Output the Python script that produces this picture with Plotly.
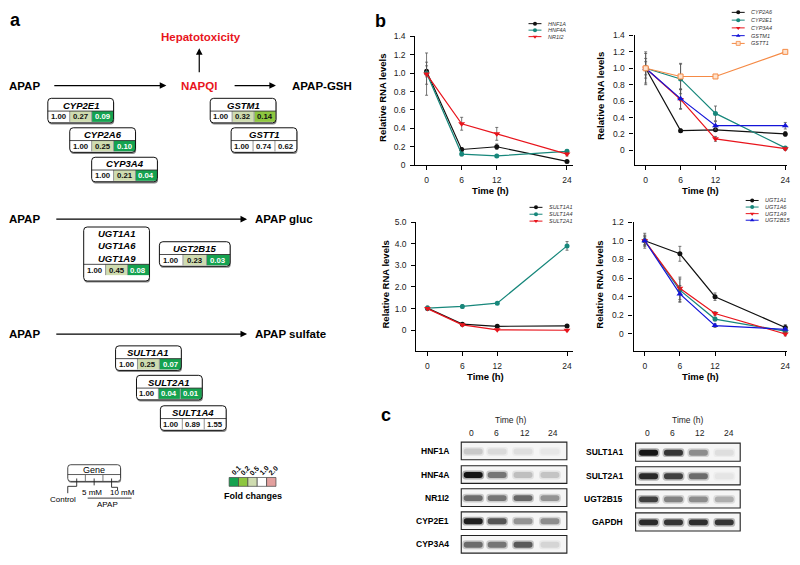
import plotly.graph_objects as go

FONT = "Arial, 'Liberation Sans', Helvetica, sans-serif"

# ---- panel b data (relative RNA levels, mean and error) ----
TIME_H = [0, 6, 12, 24]
TIME_LABELS = ["0", "6", "12", "24"]

HNF1A = [1.02, 0.17, 0.20, 0.04]
HNF1A_SD = [0.06, 0.02, 0.03, 0.01]
HNF4A = [1.00, 0.12, 0.10, 0.15]
HNF4A_SD = [0.12, 0.02, 0.01, 0.02]
NR1I2 = [0.99, 0.45, 0.34, 0.12]
NR1I2_SD = [0.23, 0.07, 0.07, 0.02]

CYP2A6 = [1.00, 0.24, 0.25, 0.20]
CYP2A6_SD = [0.03, 0.02, 0.02, 0.03]
CYP2E1 = [1.00, 0.87, 0.45, 0.03]
CYP2E1_SD = [0.18, 0.18, 0.09, 0.01]
CYP3A4 = [1.00, 0.62, 0.14, 0.02]
CYP3A4_SD = [0.12, 0.12, 0.03, 0.02]
GSTM1 = [1.00, 0.63, 0.30, 0.30]
GSTM1_SD = [0.08, 0.12, 0.05, 0.04]
GSTT1 = [1.00, 0.90, 0.90, 1.20]
GSTT1_SD = [0.20, 0.16, 0.01, 0.01]

SULT1A1 = [1.02, 0.28, 0.18, 0.20]
SULT1A1_SD = [0.08, 0.05, 0.05, 0.03]
SULT1A4 = [1.02, 1.10, 1.25, 3.90]
SULT1A4_SD = [0.10, 0.08, 0.04, 0.20]
SULT2A1 = [1.00, 0.25, 0.02, 0.00]
SULT2A1_SD = [0.06, 0.05, 0.02, 0.02]

UGT1A1 = [1.00, 0.86, 0.40, 0.07]
UGT1A1_SD = [0.08, 0.08, 0.04, 0.03]
UGT1A6 = [1.00, 0.47, 0.16, 0.03]
UGT1A6_SD = [0.06, 0.12, 0.02, 0.02]
UGT1A9 = [1.00, 0.49, 0.22, 0.00]
UGT1A9_SD = [0.05, 0.12, 0.02, 0.02]
UGT2B15 = [1.00, 0.43, 0.09, 0.05]
UGT2B15_SD = [0.04, 0.09, 0.02, 0.02]

TICKS_14 = [0, 0.2, 0.4, 0.6, 0.8, 1.0, 1.2, 1.4]
TICKS_12 = [0, 0.2, 0.4, 0.6, 0.8, 1.0, 1.2]
TICKS_5 = [0, 1, 2, 3, 4, 5]

# ---- panel a data (fold change: control, 5 mM, 10 mM APAP) ----
CYP2E1_FOLD = [1.00, 0.27, 0.09]
CYP2A6_FOLD = [1.00, 0.25, 0.10]
CYP3A4_FOLD = [1.00, 0.21, 0.04]
GSTM1_FOLD = [1.00, 0.32, 0.14]
GSTT1_FOLD = [1.00, 0.74, 0.62]
UGT1A_FOLD = [1.00, 0.45, 0.08]
UGT2B15_FOLD = [1.00, 0.23, 0.03]
SULT1A1_FOLD = [1.00, 0.25, 0.07]
SULT2A1_FOLD = [1.00, 0.04, 0.01]
SULT1A4_FOLD = [1.00, 0.89, 1.55]

FOLD_LEVELS = [0.1, 0.2, 0.5, 1.0, 2.0]
FOLD_COLORS = ["#15a24f", "#8dc63f", "#cfdcb0", "#ffffff", "#e3a09e"]

# ---- panel c data (band intensity, 0 = none, 1 = black) ----
BLOT_LANES = ["0", "6", "12", "24"]
BLOT_LEFT = ["HNF1A", "HNF4A", "NR1I2", "CYP2E1", "CYP3A4"]
BLOT_LEFT_LEVELS = [
    [0.18, 0.10, 0.08, 0.04],
    [1.00, 0.55, 0.22, 0.20],
    [0.60, 0.55, 0.62, 0.42],
    [0.95, 0.70, 0.42, 0.45],
    [0.60, 0.55, 0.68, 0.12],
]
BLOT_RIGHT = ["SULT1A1", "SULT2A1", "UGT2B15", "GAPDH"]
BLOT_RIGHT_LEVELS = [
    [1.00, 0.85, 0.45, 0.08],
    [0.90, 0.80, 0.60, 0.05],
    [0.80, 0.50, 0.45, 0.30],
    [0.90, 0.85, 0.88, 0.85],
]

BLACK = "#111111"
TEAL = "#17877b"
RED = "#e8141c"
BLUE = "#1414d8"
ORANGE = "#f58a45"

W, H = 800, 565
fig = go.Figure()
shapes = []
anns = []


def dom_x(a, b):
    return [a / W, b / W]


def dom_y(top, bottom):
    return [1 - bottom / H, 1 - top / H]


def txt(x, y, s, size=9, color="black", xanchor="center", angle=0):
    anns.append(dict(x=x, y=y, xref="x5", yref="y5", text=s, showarrow=False,
                     xanchor=xanchor, yanchor="middle", textangle=angle,
                     font=dict(size=size, color=color, family=FONT)))


def arrow(x0, y0, x1, y1):
    anns.append(dict(x=x1, y=y1, ax=x0, ay=y0, xref="x5", yref="y5",
                     axref="x5", ayref="y5", text="", showarrow=True,
                     arrowhead=2, arrowsize=1.1, arrowwidth=1.2,
                     arrowcolor="black", standoff=0))


def rrect(x0, y0, x1, y1, r):
    return (f"M{x0+r},{y0} L{x1-r},{y0} Q{x1},{y0} {x1},{y0+r} "
            f"L{x1},{y1-r} Q{x1},{y1} {x1-r},{y1} L{x0+r},{y1} "
            f"Q{x0},{y1} {x0},{y1-r} L{x0},{y0+r} Q{x0},{y0} {x0+r},{y0} Z")


def sh_path(d, fill=None, color=None, width=0):
    shapes.append(dict(type="path", path=d, xref="x5", yref="y5", layer="above",
                       fillcolor=fill or "rgba(0,0,0,0)",
                       line=dict(color=color or "rgba(0,0,0,0)", width=width)))


def sh_rect(x0, y0, x1, y1, fill=None, color=None, width=0):
    shapes.append(dict(type="rect", x0=x0, y0=y0, x1=x1, y1=y1, xref="x5",
                       yref="y5", layer="above", fillcolor=fill or "rgba(0,0,0,0)",
                       line=dict(color=color or "rgba(0,0,0,0)", width=width)))


def sh_line(x0, y0, x1, y1, color="black", width=1):
    shapes.append(dict(type="line", x0=x0, y0=y0, x1=x1, y1=y1, xref="x5",
                       yref="y5", layer="above", line=dict(color=color, width=width)))


def fold_color(v):
    if v <= 0.1001:
        return FOLD_COLORS[0]
    if v <= 0.2:
        return FOLD_COLORS[1]
    if v <= 0.5:
        return FOLD_COLORS[2]
    if v < 2:
        return FOLD_COLORS[3]
    return FOLD_COLORS[4]


def gene_box(x0, y0, names, fold, w=66, extra=0):
    x1 = x0 + w
    yv0 = y0 + 13 + 12.5 * (len(names) - 1)
    yv1 = yv0 + 11
    y1 = yv1 + 1 + extra
    sh_path(rrect(x0 + 0.6, y0 + 1.6, x1 + 0.6, y1 + 1.6, 3.5), fill="#8a8a8a")
    sh_path(rrect(x0, y0, x1, y1, 3.5), fill="white")
    cw = w / 3
    for i, v in enumerate(fold):
        col = fold_color(v)
        sh_rect(x0 + i * cw + 0.4, yv0, x0 + (i + 1) * cw - 0.4, yv1, fill=col)
        tc = "white" if col == FOLD_COLORS[0] else "#111"
        txt(x0 + (i + 0.5) * cw, (yv0 + yv1) / 2 + 0.3, f"<b>{v:.2f}</b>", size=7.8, color=tc)
    for i in (1, 2):
        sh_line(x0 + i * cw, yv0, x0 + i * cw, yv1, color="#777", width=0.8)
    sh_line(x0, yv0, x1, yv0, color="#222", width=0.8)
    sh_path(rrect(x0, y0, x1, y1, 3.5), color="#111", width=1)
    for j, n in enumerate(names):
        txt(x0 + w / 2, y0 + 6.8 + 12.5 * j, f"<b><i>{n}</i></b>", size=9.5)


# ---------------- panel b line charts ----------------
def add_series(xa, ya, y, err, color, symbol, size=5, fill=None):
    fig.add_trace(go.Scatter(
        x=TIME_H, y=y, xaxis=xa, yaxis=ya, mode="lines+markers",
        line=dict(color=color, width=1.2),
        marker=dict(symbol=symbol, size=size, color=fill or color,
                    line=dict(color=color, width=1 if fill else 0)),
        error_y=dict(type="data", array=err, color="#555", thickness=0.8, width=1.5),
        cliponaxis=False, showlegend=False, hoverinfo="skip"))


def legend_entry(x, y, name, color, symbol, size=4, fill=None):
    fig.add_trace(go.Scatter(x=[x - 6.5, x + 6.5], y=[y, y], xaxis="x5", yaxis="y5",
                             mode="lines", line=dict(color=color, width=1),
                             showlegend=False, hoverinfo="skip"))
    fig.add_trace(go.Scatter(x=[x], y=[y], xaxis="x5", yaxis="y5", mode="markers",
                             marker=dict(symbol=symbol, size=size, color=fill or color,
                                         line=dict(color=color, width=0.8 if fill else 0)),
                             showlegend=False, hoverinfo="skip"))
    txt(x + 11, y, f"<i>{name}</i>", size=5.5, color="#333", xanchor="left")


# chart 1
add_series("x", "y", HNF1A, HNF1A_SD, BLACK, "circle")
add_series("x", "y", HNF4A, HNF4A_SD, TEAL, "circle")
add_series("x", "y", NR1I2, NR1I2_SD, RED, "triangle-down", 6)
for k, (n, c, s) in enumerate([("HNF1A", BLACK, "circle"), ("HNF4A", TEAL, "circle"),
                               ("NR1I2", RED, "triangle-down")]):
    legend_entry(537, 19 + 6.6 * k, n, c, s)

# chart 2
add_series("x2", "y2", CYP2A6, CYP2A6_SD, BLACK, "circle")
add_series("x2", "y2", CYP2E1, CYP2E1_SD, TEAL, "circle")
add_series("x2", "y2", CYP3A4, CYP3A4_SD, RED, "triangle-down", 6)
add_series("x2", "y2", GSTM1, GSTM1_SD, BLUE, "triangle-up", 6)
add_series("x2", "y2", GSTT1, GSTT1_SD, ORANGE, "square", 5, fill="#fde3cf")
for k, (n, c, s, f) in enumerate([("CYP2A6", BLACK, "circle", None), ("CYP2E1", TEAL, "circle", None),
                                  ("CYP3A4", RED, "triangle-down", None),
                                  ("GSTM1", BLUE, "triangle-up", None),
                                  ("GSTT1", ORANGE, "square", "#fde3cf")]):
    legend_entry(741, 7.5 + 7.9 * k, n, c, s, fill=f)

# chart 3
add_series("x3", "y3", SULT1A1, SULT1A1_SD, BLACK, "circle")
add_series("x3", "y3", SULT1A4, SULT1A4_SD, TEAL, "circle")
add_series("x3", "y3", SULT2A1, SULT2A1_SD, RED, "triangle-down", 6)
for k, (n, c, s) in enumerate([("SULT1A1", BLACK, "circle"), ("SULT1A4", TEAL, "circle"),
                               ("SULT2A1", RED, "triangle-down")]):
    legend_entry(538, 206 + 7 * k, n, c, s)

# chart 4
add_series("x4", "y4", UGT1A1, UGT1A1_SD, BLACK, "circle")
add_series("x4", "y4", UGT1A6, UGT1A6_SD, TEAL, "circle")
add_series("x4", "y4", UGT1A9, UGT1A9_SD, RED, "triangle-down", 6)
add_series("x4", "y4", UGT2B15, UGT2B15_SD, BLUE, "triangle-up", 6)
for k, (n, c, s) in enumerate([("UGT1A1", BLACK, "circle"), ("UGT1A6", TEAL, "circle"),
                               ("UGT1A9", RED, "triangle-down"),
                               ("UGT2B15", BLUE, "triangle-up")]):
    legend_entry(755, 199 + 6.7 * k, n, c, s)


def tick_labels(vals):
    return ["0"] + [f"{v:.1f}" for v in vals[1:]]


axis_common = dict(showline=True, linecolor="black", linewidth=1.3, ticks="outside",
                   ticklen=4, tickwidth=1, tickcolor="black", showgrid=False,
                   zeroline=False, fixedrange=True,
                   tickfont=dict(size=8.5, color="#222", family=FONT))

charts = [
    ("", dom_x(417, 575), dom_y(32, 163), [-1.9, 25], [0, 1.4], TICKS_14),
    ("2", dom_x(637, 790), dom_y(31, 163), [-1.9, 24.3], [-0.18, 1.4], TICKS_14),
    ("3", dom_x(418, 575), dom_y(221, 352), [-1.9, 25], [-0.95, 5.0], TICKS_5),
    ("4", dom_x(636, 790), dom_y(221, 352), [-1.9, 24.3], [-0.18, 1.2], TICKS_12),
]
axes = {}
for sfx, xd, yd, xr, yr, yt in charts:
    axes["xaxis" + sfx] = dict(axis_common, domain=xd, range=xr, anchor="y" + sfx,
                               tickvals=TIME_H, ticktext=TIME_LABELS, ticklabelstandoff=3)
    axes["yaxis" + sfx] = dict(axis_common, domain=yd, range=yr, anchor="x" + sfx,
                               tickvals=yt, ticktext=tick_labels(yt), ticklabelstandoff=3)

# full-figure overlay in pixel units for the diagram, legends and blots
axes["xaxis5"] = dict(domain=[0, 1], range=[0, W], visible=False, fixedrange=True, anchor="y5")
axes["yaxis5"] = dict(domain=[0, 1], range=[H, 0], visible=False, fixedrange=True, anchor="x5")

for (xt, yc, xb, yb) in [(384, 95, 492, 189), (603, 93, 703, 189),
                         (387, 285, 487, 378), (602, 285, 703, 378)]:
    txt(xt, yc, "<b>Relative RNA levels</b>", size=9.5, angle=-90)
    txt(xb, yb, "<b>Time (h)</b>", size=9.5)

txt(382, 16, "<b>b</b>", size=18)

# ---------------- panel a pathway ----------------
txt(16, 15, "<b>a</b>", size=18)
txt(202, 33, "<b>Hepatotoxicity</b>", size=11.5, color=RED)
txt(7, 82, "<b>APAP</b>", size=11.5, xanchor="left")
txt(200, 82, "<b>NAPQI</b>", size=11.5, color=RED)
txt(291, 82, "<b>APAP-GSH</b>", size=11.5, xanchor="left")
arrow(53, 82, 167, 82)
arrow(200, 70, 200, 44)
arrow(234, 82, 277, 82)

gene_box(48, 95, ["CYP2E1"], CYP2E1_FOLD)
gene_box(70, 125, ["CYP2A6"], CYP2A6_FOLD)
gene_box(92, 155, ["CYP3A4"], CYP3A4_FOLD)
gene_box(211, 95, ["GSTM1"], GSTM1_FOLD)
gene_box(232, 125, ["GSTT1"], GSTT1_FOLD)

txt(7, 218, "<b>APAP</b>", size=11.5, xanchor="left")
txt(254, 218, "<b>APAP gluc</b>", size=11.5, xanchor="left")
arrow(55, 218, 248, 218)
gene_box(84, 226, ["UGT1A1", "UGT1A6", "UGT1A9"], UGT1A_FOLD, extra=5)
gene_box(160, 241, ["UGT2B15"], UGT2B15_FOLD, w=71)

txt(7, 335, "<b>APAP</b>", size=11.5, xanchor="left")
txt(254, 335, "<b>APAP sulfate</b>", size=11.5, xanchor="left")
arrow(55, 335, 248, 335)
gene_box(116, 347, ["SULT1A1"], SULT1A1_FOLD)
gene_box(137, 377, ["SULT2A1"], SULT2A1_FOLD)
gene_box(161, 408, ["SULT1A4"], SULT1A4_FOLD)

# gene key
kx0, ky0, kx1, ky1 = 68, 468, 121, 485
sh_path(rrect(kx0 + 0.6, ky0 + 1.4, kx1 + 0.6, ky1 + 1.4, 3), fill="#8a8a8a")
sh_path(rrect(kx0, ky0, kx1, ky1, 3), fill="white", color="#333", width=0.9)
sh_line(kx0, 478, kx1, 478, color="#333", width=0.8)
kw = (kx1 - kx0) / 3
sh_line(kx0 + kw, 478, kx0 + kw, ky1, color="#555", width=0.8)
sh_line(kx0 + 2 * kw, 478, kx0 + 2 * kw, ky1, color="#555", width=0.8)
txt((kx0 + kx1) / 2, 473, "Gene", size=9)
sh_path("M77,482 L77,490 L68,490 L68,497", color="#222", width=0.9)
sh_line(94.5, 482, 94.5, 489, color="#222", width=0.9)
sh_path("M112,482 L112,491 L118,491 L118,494", color="#222", width=0.9)
sh_line(88, 502, 132, 502, color="#222", width=0.9)
txt(63, 503, "Control", size=8)
txt(92, 496, "5 mM", size=8)
txt(123, 496, "10 mM", size=8)
txt(108, 509, "APAP", size=8)

# fold change colour key
for i, (lv, col) in enumerate(zip(FOLD_LEVELS, FOLD_COLORS)):
    fx = 230 + i * 9.4
    sh_rect(fx, 481, fx + 9.4, 490, fill=col, color="#444", width=0.7)
    txt(fx + 6.5, 473.5, f"<b>{lv:.1f}</b>", size=7, angle=-45)
txt(254, 500, "<b>Fold changes</b>", size=9)

# ---------------- panel c western blots ----------------
txt(387, 417, "<b>c</b>", size=18)


def band(cx, cy, level, w=19, h=6):
    halo = int(242 - 70 * level)
    core = int(240 - 220 * level)
    sh_path(rrect(cx - w / 2 - 1.5, cy - h / 2 - 1.5, cx + w / 2 + 1.5, cy + h / 2 + 1.5, 3.5),
            fill=f"rgb({halo},{halo},{halo})")
    sh_path(rrect(cx - w / 2, cy - h / 2, cx + w / 2, cy + h / 2, 2.8),
            fill=f"rgb({core},{core},{core})")


def blot(x0, x1, tops, rh, lanes, names, levels, label_x, lane_label_x, title_x):
    txt(title_x, 422, "Time (h)", size=8.5, color="#222")
    for lx, lab in zip(lane_label_x, BLOT_LANES):
        txt(lx, 436, lab, size=8.5, color="#222")
    for top, name, lv in zip(tops, names, levels):
        sh_rect(x0, top, x1, top + rh, fill="#f5f5f5")
        for cx, v in zip(lanes, lv):
            band(cx, top + rh / 2 + 0.5, v)
        sh_rect(x0, top, x1, top + rh, color="#222", width=1.1)
        txt(label_x, top + rh / 2, f"<b>{name}</b>", size=8.5, xanchor="right")


blot(463, 569, [445, 469, 492.5, 516, 540], 18, [475, 499, 525, 552],
     BLOT_LEFT, BLOT_LEFT_LEVELS, 453, [473, 498, 527, 555], 512)
blot(638, 743, [446, 470, 493.5, 517], 18.5, [651, 676, 701, 727],
     BLOT_RIGHT, BLOT_RIGHT_LEVELS, 627, [650, 675, 703, 732], 690)

fig.update_layout(
    width=W, height=H, margin=dict(l=0, r=0, t=0, b=0),
    paper_bgcolor="white", plot_bgcolor="rgba(0,0,0,0)",
    font=dict(family=FONT, color="black"), showlegend=False,
    shapes=shapes, annotations=anns, **axes,
)

# page body margin would shift the 800x565 figure out of the window
fig.write_html("out.html", config={"displayModeBar": False},
               post_script="document.body.style.margin='0';")
